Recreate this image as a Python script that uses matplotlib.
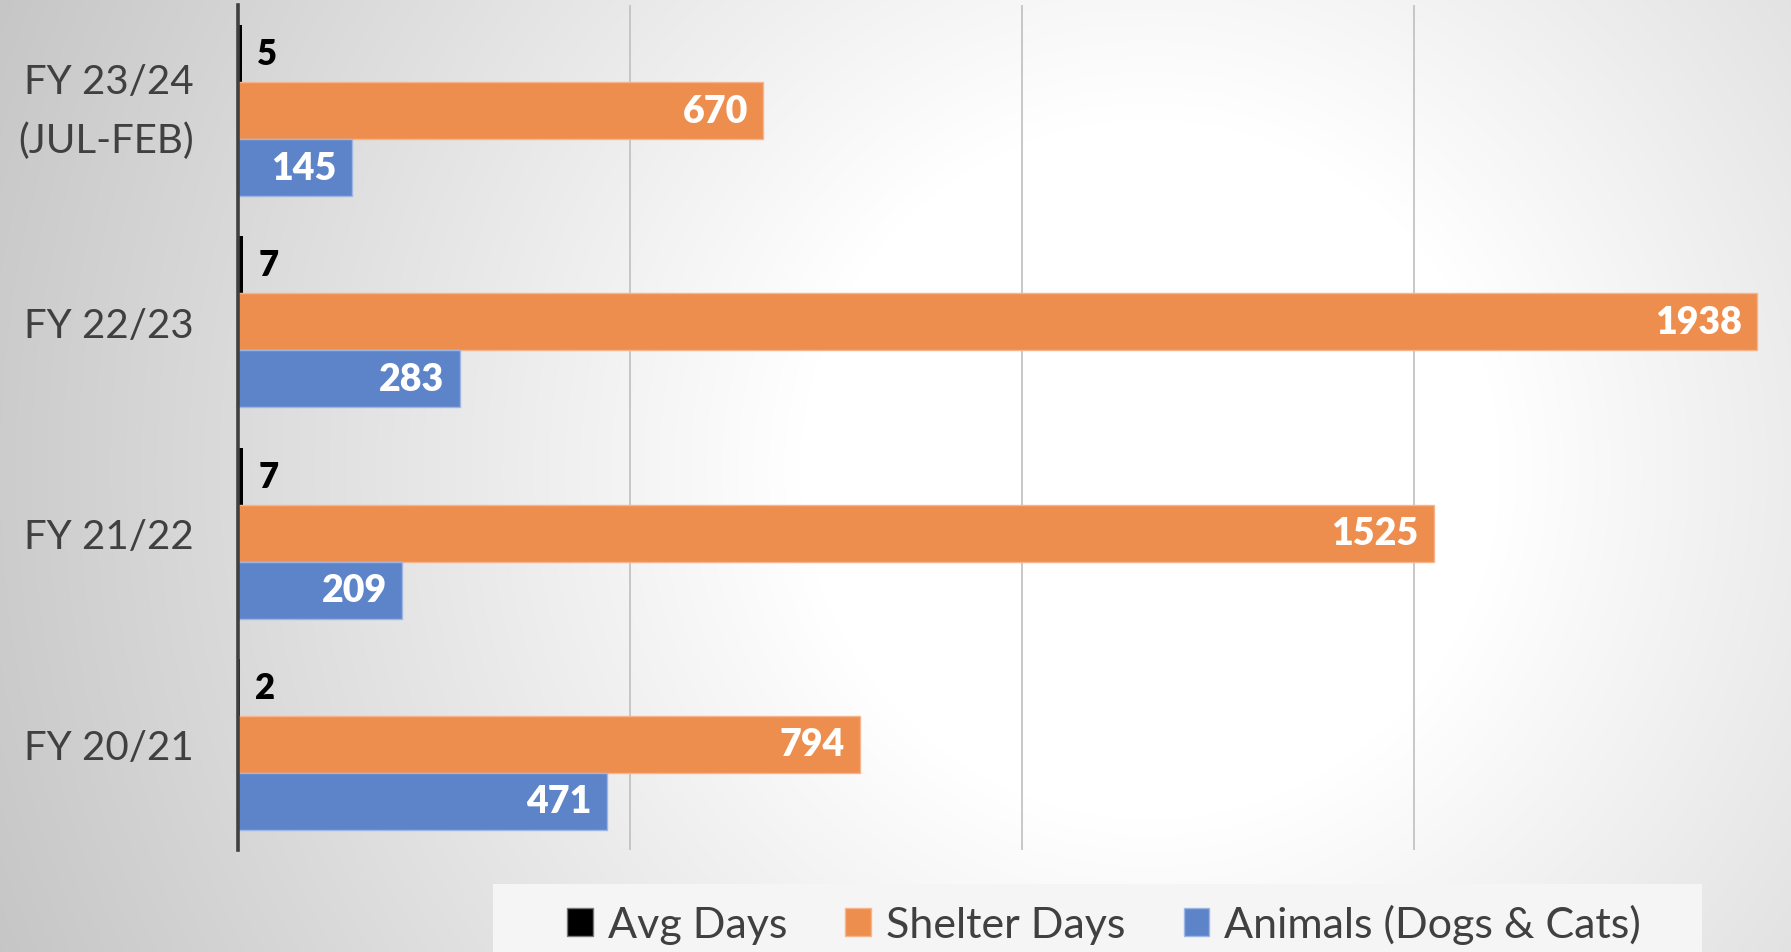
import numpy as np
import matplotlib
matplotlib.use("Agg")
import matplotlib.pyplot as plt
from matplotlib.patches import Patch, Rectangle

plt.rcParams["font.family"] = ["Lato", "DejaVu Sans"]

# data (bottom to top, as drawn)
categories = ["FY 20/21", "FY 21/22", "FY 22/23", "FY 23/24\n(JUL-FEB)"]
avg_days = [2, 7, 7, 5]
shelter_days = [794, 1525, 1938, 670]
animals = [471, 209, 283, 145]

ORANGE = "#EE8E4E"
BLUE = "#5D84C9"
TXT = "#404040"

W, H, DPI = 1791, 953, 100
fig = plt.figure(figsize=(W / DPI, H / DPI), dpi=DPI)

# radial background
bg = fig.add_axes([0, 0, 1, 1], zorder=-10)
yy, xx = np.mgrid[0:H, 0:W]
d = np.hypot(xx - 1150, yy - 470)
v = 1 - 0.00025 * np.clip(d - 350, 0, None)
bg.imshow(np.dstack([v, v, v]), extent=[0, 1, 0, 1], aspect="auto", origin="upper")
bg.add_patch(Rectangle((493 / W, 0), (1702 - 493) / W, 68 / H,
                       transform=bg.transAxes, facecolor="#f5f5f5", edgecolor="none"))
bg.set_xlim(0, 1)
bg.set_ylim(0, 1)
bg.axis("off")

ax = fig.add_axes([238 / W, 102 / H, 1568 / W, 845 / H])
ax.patch.set_alpha(0)

y = np.arange(len(categories))
bh = 0.27
b_avg = ax.barh(y + bh, avg_days, height=bh, color="black", edgecolor="none", zorder=3)
b_sh = ax.barh(y, shelter_days, height=bh, color=ORANGE, edgecolor="#f5b48a", linewidth=1, zorder=3)
b_an = ax.barh(y - bh, animals, height=bh, color=BLUE, edgecolor="#9db6e3", linewidth=1, zorder=3)

ax.bar_label(b_avg, labels=[str(v) for v in avg_days], padding=11, color="black",
             fontsize=25, fontweight="heavy")
for bars, vals in [(b_sh, shelter_days), (b_an, animals)]:
    labs = ax.bar_label(bars, labels=[str(v) for v in vals], padding=-11,
                        color="white", fontsize=27, fontweight="heavy")
    for t in labs:
        t.set_ha("right")

ax.set_xlim(0, 2000)
ax.set_ylim(-0.5, 3.5)
ax.set_xticks([500, 1000, 1500])
ax.xaxis.grid(True, color="#bfbfbf", linewidth=1.2, zorder=0)
ax.set_axisbelow(True)
ax.tick_params(axis="x", length=0, labelbottom=False)
ax.set_yticks(y)
ax.set_yticklabels(categories, fontsize=29, color=TXT, linespacing=1.7)
for t in ax.get_yticklabels():
    if "\n" in t.get_text():
        t.set_va("center")
ax.tick_params(axis="y", length=0, pad=32)
for s in ["top", "right", "bottom"]:
    ax.spines[s].set_visible(False)
ax.spines["left"].set_color(TXT)
ax.spines["left"].set_linewidth(2.6)
ax.spines["left"].set_zorder(5)

handles = [Patch(facecolor="black", edgecolor="#777777"),
           Patch(facecolor=ORANGE, edgecolor="#f5b48a"),
           Patch(facecolor=BLUE, edgecolor="#9db6e3")]
fig.legend(handles, ["Avg Days", "Shelter Days", "Animals (Dogs & Cats)"],
           loc="center", bbox_to_anchor=(1104 / W, 1 - 925 / H), ncol=3, frameon=False,
           fontsize=31, labelcolor=TXT, handlelength=0.6, handleheight=0.6,
           handletextpad=0.35, columnspacing=1.35)

fig.savefig("out.png", dpi=DPI)
